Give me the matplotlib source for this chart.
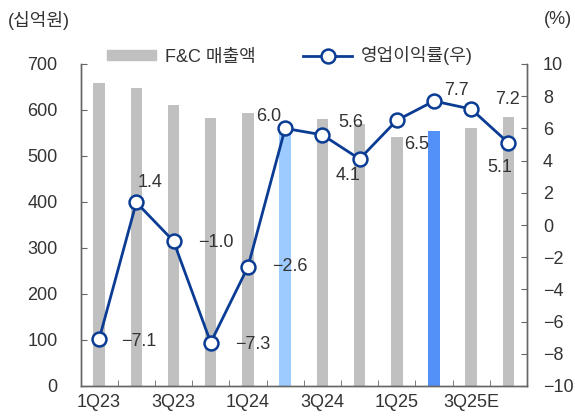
import numpy as np
import matplotlib
matplotlib.use("Agg")
import matplotlib.pyplot as plt
from matplotlib.patches import Patch
from matplotlib.lines import Line2D

plt.rcParams['font.family'] = ['Liberation Sans', 'Noto Sans CJK KR', 'DejaVu Sans']
plt.rcParams['axes.unicode_minus'] = True

quarters = ["1Q23", "2Q23", "3Q23", "4Q23", "1Q24", "2Q24", "3Q24", "4Q24",
            "1Q25", "2Q25", "3Q25E", "4Q25E"]
sales = [659, 648, 611, 582, 594, 555, 580, 569, 542, 555, 561, 585]
margin = [-7.1, 1.4, -1.0, -7.3, -2.6, 6.0, 5.6, 4.1, 6.5, 7.7, 7.2, 5.1]

# label offsets in pixels (dx, dy up)
label_off = [(40, -2), (14, 20), (42, -1), (42, -2), (42, 0), (-16, 12),
             (28, 12), (-11, -17), (20, -24), (22, 11), (36, 10), (-9, -25)]

txt = '#333333'
gray = '#c0c0c0'
bar_colors = [gray] * len(quarters)
bar_colors[5] = '#9dcbff'
bar_colors[9] = '#5391f9'
navy = '#0b3c94'

fig = plt.figure(figsize=(5.75, 4.17), dpi=100)
ax = fig.add_axes([80.5/575, 31/417, 446.5/575, 322/417])
x = np.arange(len(quarters))
ax.bar(x, sales, width=0.31, color=bar_colors, zorder=1)
ax.set_xlim(-0.5, 11.5)
ax.set_ylim(0, 700)
ax.set_yticks(range(0, 701, 100))
ax.set_xticks(x[::2])
ax.set_xticklabels(quarters[::2])
ax.set_xticks(np.arange(0.5, 11, 1), minor=True)

ax2 = ax.twinx()
ax2.plot(x, margin, color=navy, lw=2, marker='o', ms=10, mfc='white',
         mec=navy, mew=1.8, zorder=3)
ax2.set_ylim(-10, 10)
ax2.set_yticks(range(-10, 11, 2))

for i, v in enumerate(margin):
    dx, dy = label_off[i]
    ax2.annotate(f"{v:.1f}".replace('-', '\u2212'), (i, v),
                 xytext=(dx*0.72, dy*0.72), textcoords='offset points',
                 ha='center', va='center', fontsize=13, color=txt)

spc = '#666666'
for a in (ax, ax2):
    a.spines['top'].set_visible(False)
    for s in ('left', 'right', 'bottom'):
        a.spines[s].set_color(spc)
        a.spines[s].set_linewidth(1)
    a.patch.set_visible(False)

ax.tick_params(axis='y', direction='in', length=4, pad=16.5, colors=spc,
               labelcolor=txt, labelsize=13)
ax.tick_params(axis='x', which='major', length=0, pad=6, labelcolor=txt,
               labelsize=13)
ax.tick_params(axis='x', which='minor', direction='in', length=4, colors=spc)
ax2.tick_params(axis='y', direction='in', length=4, pad=11.5, colors=spc,
                labelcolor=txt, labelsize=13)

handles = [Patch(color=gray),
           Line2D([], [], color=navy, lw=2, marker='o', ms=10, mfc='white',
                  mec=navy, mew=1.8)]
ax2.legend(handles, ["F&C 매출액", "영업이익률(우)"], loc='center',
           bbox_to_anchor=(0.469, 1.025), ncol=2, frameon=False, fontsize=13,
           handlelength=2.7, handleheight=0.4, handletextpad=0.5,
           columnspacing=2.65, labelcolor=txt, borderaxespad=0)

fig.text(8/575, 1 - 20/417, "(십억원)", ha='left', va='center', fontsize=13,
         color=txt)
fig.text(572/575, 1 - 20/417, "(%)", ha='right', va='center', fontsize=13,
         color=txt)

fig.savefig("out.png", dpi=100)
